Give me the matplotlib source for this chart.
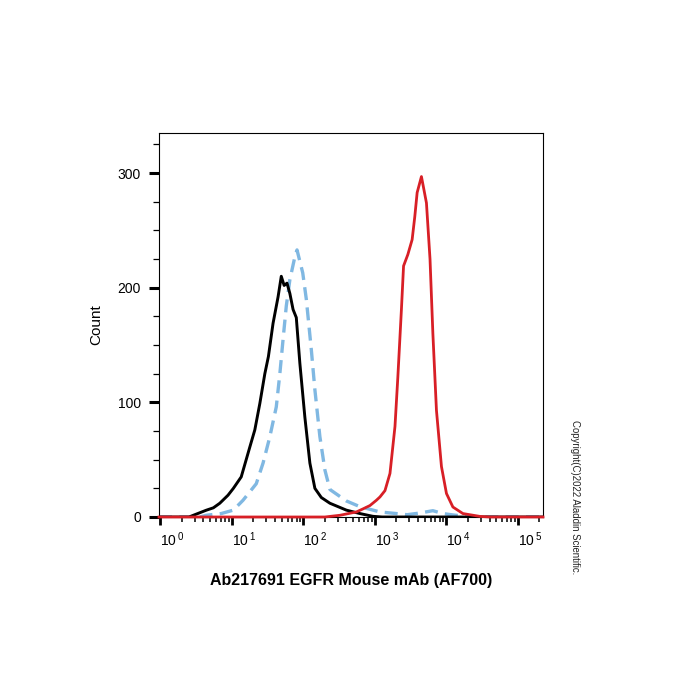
import numpy as np
import matplotlib
matplotlib.use("Agg")
import matplotlib.pyplot as plt
from matplotlib.ticker import LogLocator, FixedLocator, MultipleLocator, FuncFormatter, NullFormatter

plt.rcParams['font.family'] = ['Liberation Sans', 'DejaVu Sans']
plt.rcParams['mathtext.fontset'] = 'custom'
plt.rcParams['mathtext.rm'] = 'Liberation Sans'

# histogram outlines, x given as log10 of fluorescence
black_log = [-0.02, 0.40, 0.46, 0.64, 0.74, 0.83, 0.945, 1.02, 1.13, 1.25, 1.32, 1.39, 1.46,
             1.51, 1.575, 1.645, 1.69, 1.73, 1.77, 1.81, 1.855, 1.90, 1.95, 2.02, 2.09, 2.16,
             2.25, 2.37, 2.6, 2.79, 2.97, 3.1, 5.35]
black_cnt = [0, 0, 1.5, 5.9, 8, 12, 19, 25, 35, 61, 76, 99, 125,
             140, 169, 192, 210, 202, 204, 195, 181, 174, 134, 87, 47, 25,
             17, 12, 6, 3, 0.6, 0, 0]

blue_log = [-0.02, 0.55, 0.64, 0.85, 1.02, 1.155, 1.34, 1.435, 1.53, 1.62, 1.67, 1.715, 1.76,
            1.81, 1.88, 1.91, 1.99, 2.04, 2.11, 2.16, 2.23, 2.30, 2.37, 2.6, 2.79, 3.07,
            3.3, 3.45, 3.63, 3.81, 3.95, 4.09, 4.28, 4.4, 5.35]
blue_cnt = [0, 0, 1.5, 3, 6, 14.6, 29, 47, 70, 96, 125, 155, 184,
            207, 227, 233, 213, 190, 146, 111, 70, 41, 24, 14, 9, 4.4,
            3, 2, 3.5, 5.5, 3, 1.8, 0.5, 0, 0]

red_log = [-0.02, 2.3, 2.51, 2.74, 2.83, 2.93, 3.02, 3.07, 3.14, 3.21, 3.28, 3.32, 3.37,
           3.40, 3.46, 3.52, 3.557, 3.59, 3.65, 3.72, 3.77, 3.81, 3.86, 3.93, 4.0, 4.09,
           4.23, 4.47, 4.6, 5.35]
red_cnt = [0, 0, 1.5, 4.4, 7, 10, 14.6, 17.5, 23, 38, 79, 122, 181,
           219, 229, 242, 262, 283, 297, 274, 225, 160, 93, 44, 20.5, 8.7,
           3, 0.5, 0, 0]

decades = [0, 1, 2, 3, 4, 5]

fig = plt.figure(figsize=(7, 7), dpi=100)
ax = fig.add_axes([159 / 700, 183 / 700, 384 / 700, 384 / 700])

ax.plot(10 ** np.array(black_log), black_cnt, color='black', lw=2.1, zorder=3)
ax.plot(10 ** np.array(blue_log), blue_cnt, color='#80b8e2', lw=2.4,
        linestyle=(0, (3.9, 2.2)), zorder=2)
ax.plot(10 ** np.array(red_log), red_cnt, color='#d81f26', lw=2.0, zorder=4, clip_on=False)

ax.set_xscale('log')
ax.set_xlim(10 ** -0.02, 10 ** 5.35)
ax.set_ylim(0, 335)

ax.xaxis.set_major_locator(FixedLocator([10.0 ** d for d in decades]))
ax.xaxis.set_minor_locator(LogLocator(base=10, subs=np.arange(2, 10), numticks=20))
ax.xaxis.set_major_formatter(FuncFormatter(lambda v, p: r'$\mathregular{10^{\,%d}}$' % round(np.log10(v))))
ax.xaxis.set_minor_formatter(NullFormatter())
for lab in ax.get_xticklabels():
    lab.set_horizontalalignment('left')

ax.yaxis.set_major_locator(MultipleLocator(100))
ax.yaxis.set_minor_locator(MultipleLocator(25))

ax.tick_params(axis='both', which='major', direction='out', length=7, width=2.2,
               labelsize=10, color='black')
ax.tick_params(axis='x', which='major', length=6, width=2.0, pad=4, labelsize=10)
ax.tick_params(axis='y', which='minor', direction='out', length=4.3, width=0.9)
ax.tick_params(axis='x', which='minor', direction='out', length=3.6, width=1.1)
ax.tick_params(axis='y', which='major', pad=6)

for s in ax.spines.values():
    s.set_linewidth(0.8)

ax.set_ylabel('Count', fontsize=11, labelpad=10)
ax.set_xlabel('Ab217691 EGFR Mouse mAb (AF700)', fontsize=11.5, fontweight='bold', labelpad=17)

fig.text(575 / 700, 1 - 497 / 700, 'Copyright(C)2022 Aladdin Scientific.', rotation=-90,
         fontsize=6.9, ha='center', va='center', color='#222222')

fig.savefig('out.png', dpi=100, facecolor='white')
